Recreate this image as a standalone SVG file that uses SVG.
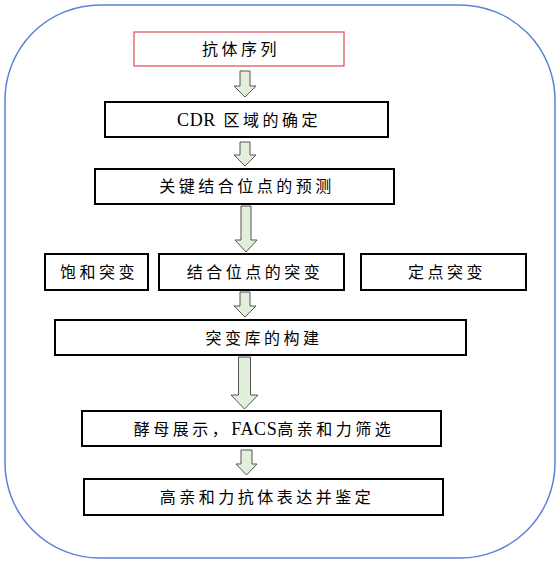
<svg xmlns="http://www.w3.org/2000/svg" width="560" height="564" viewBox="0 0 560 564">
<style>
.box{fill:#fff;stroke:#000;stroke-width:2}
.pink{fill:#fff;stroke:#e04a5a;stroke-width:1.2}
.t{font-family:"Liberation Serif","Noto Sans CJK SC",serif;font-size:16px;letter-spacing:3.5px;fill:#000;text-anchor:middle}
.lat{font-size:18px;letter-spacing:0.6px}
.arr{fill:#e2efda;stroke:#555;stroke-width:1}
</style>
<rect x="0" y="0" width="560" height="564" fill="#fff"/>
<rect id="frame" x="5" y="5" width="550" height="553" rx="95" ry="95" fill="none" stroke="#5a82d6" stroke-width="1.5"/>
<g id="connectors">
<polygon class="arr" points="240,71 250,71 250,86 256,86 245,97 234,86 240,86"/>
<polygon class="arr" points="240,142 250,142 250,155 256,155 245,166 234,155 240,155"/>
<polygon class="arr" points="241,206 251,206 251,240 257,240 246,252 235,240 241,240"/>
<polygon class="arr" points="240,292 250,292 250,306 256,306 245,317 234,306 240,306"/>
<polygon class="arr" points="238.5,357 250.5,357 250.5,395 258,395 244.5,409 231,395 238.5,395"/>
<polygon class="arr" points="241,450 252,450 252,464 257,464 246.5,475 236,464 241,464"/>
</g>
<g id="n1"><rect class="pink" x="134" y="32" width="210" height="34"/><text class="t" x="241" y="55">抗体序列</text></g>
<g id="n2"><rect class="box" x="105" y="102" width="283" height="35"/><text class="t" x="249" y="126"><tspan class="lat">CDR</tspan> 区域的确定</text></g>
<g id="n3"><rect class="box" x="95" y="169" width="299" height="35"/><text class="t" x="247" y="192">关键结合位点的预测</text></g>
<g id="n4"><rect class="box" x="45" y="254" width="103" height="36"/><text class="t" x="99" y="278">饱和突变</text></g>
<g id="n5"><rect class="box" x="159" y="254" width="185" height="36"/><text class="t" x="255" y="278">结合位点的突变</text></g>
<g id="n6"><rect class="box" x="361" y="254" width="165" height="36"/><text class="t" x="447" y="278">定点突变</text></g>
<g id="n7"><rect class="box" x="55" y="320" width="411" height="35"/><text class="t" x="264" y="344">突变库的构建</text></g>
<g id="n8"><rect class="box" x="82" y="411" width="359" height="35"/><text class="t" x="264" y="435">酵母展示，<tspan class="lat">FACS</tspan>高亲和力筛选</text></g>
<g id="n9"><rect class="box" x="84" y="479" width="359" height="36"/><text class="t" x="267" y="503">高亲和力抗体表达并鉴定</text></g>
</svg>
